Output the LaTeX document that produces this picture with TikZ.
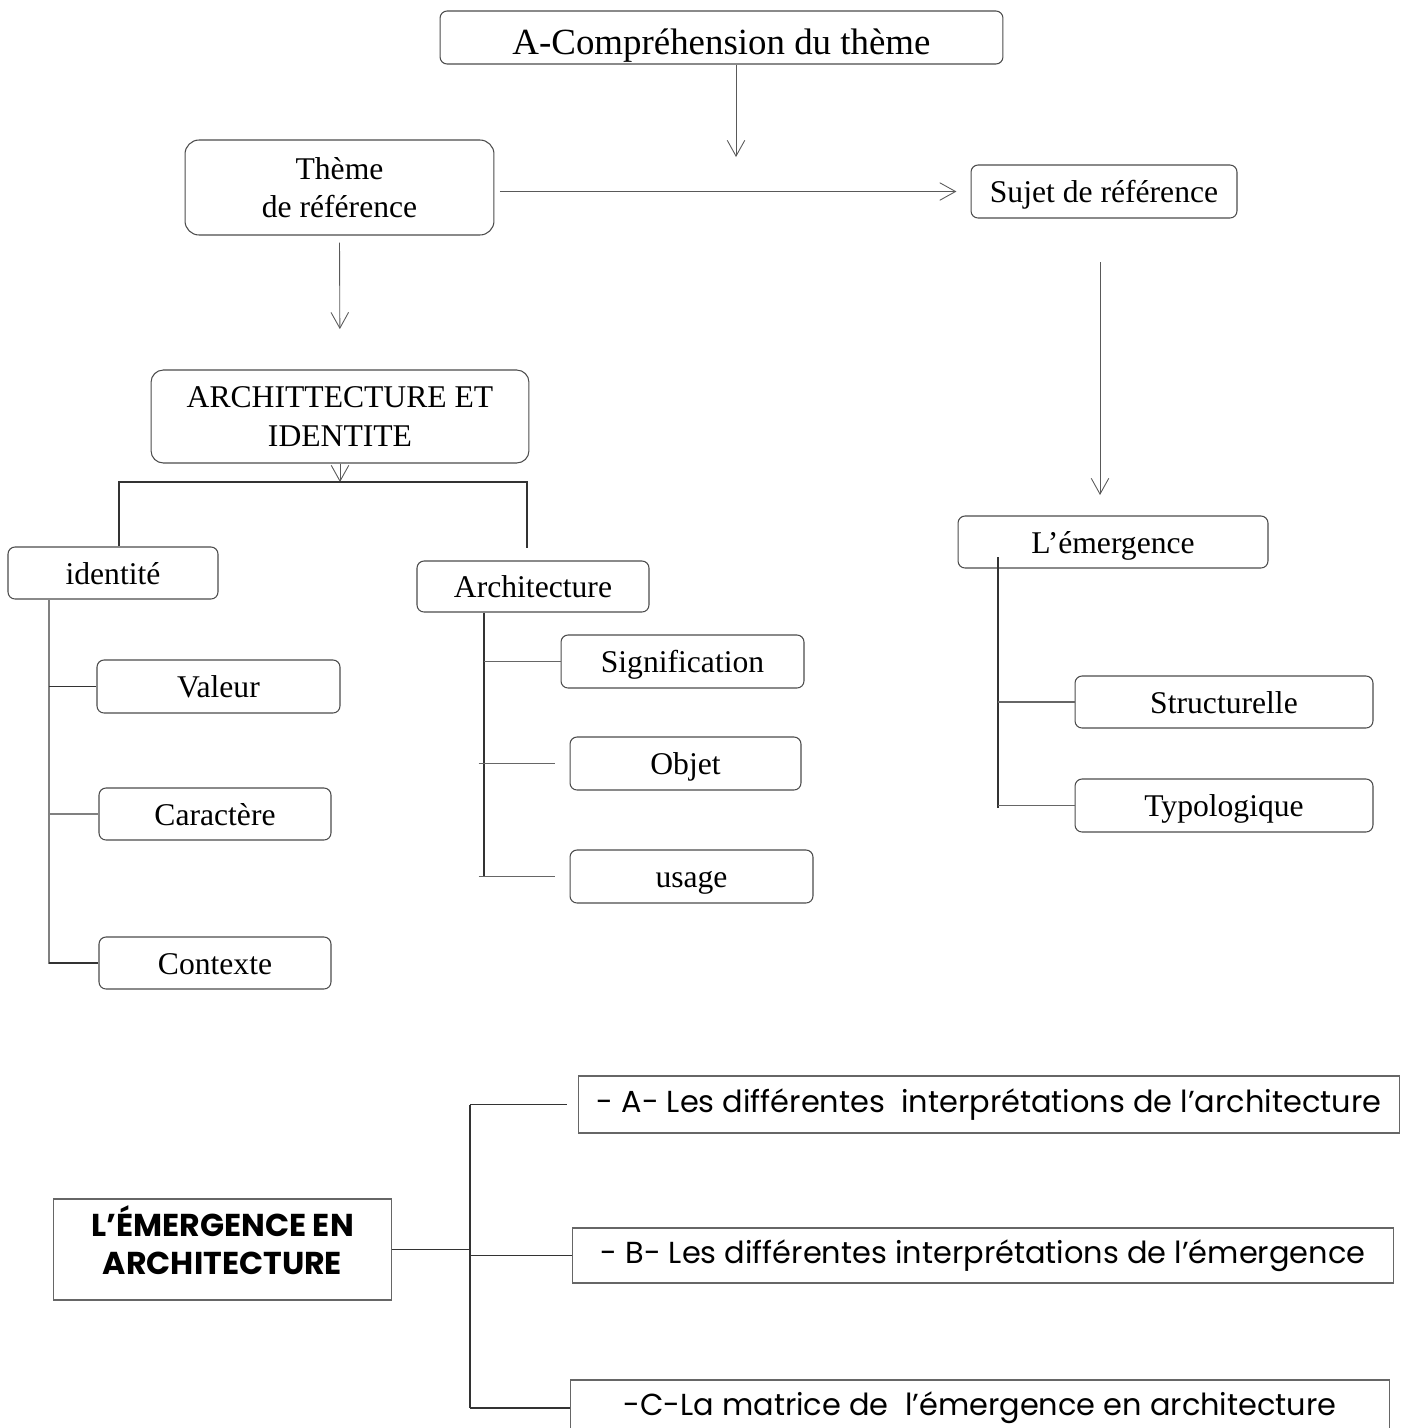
\documentclass[tikz,border=0pt]{standalone}
\usepackage{fontspec}
\setmainfont{Liberation Serif}
\newfontfamily\gothique{Poppins}
\usetikzlibrary{arrows.meta}

\tikzset{
  boite/.style={draw=black!70, line width=0.6pt, rounded corners=4pt, inner sep=0pt,
    align=center, font=\fontsize{18}{22}\selectfont},
  ligne/.style={boite, text height=13pt, text depth=0pt},
  cadre/.style={draw=black!60, line width=0.6pt, inner sep=0pt, align=center,
    font=\gothique\fontsize{17.3}{21}\selectfont},
  fleche/.style={-{Straight Barb[length=9pt,width=10pt]}, draw=black!65, line width=0.5pt},
  trait/.style={draw=black!80, line width=0.6pt}
}

\begin{document}
\begin{tikzpicture}[x=0.02cm,y=-0.02cm]
	\clip (0,0) rectangle (1405,1428);
	% partie haute
	\node[ligne, minimum width=11.26cm, minimum height=1.06cm, text height=19.8pt, font=\fontsize{21}{25}\selectfont] (titre) at (721.5,37.5) {A-Compréhension du thème};
	\node[boite, rounded corners=8pt, minimum width=6.18cm, minimum height=1.9cm] (theme) at (339.5,187.5) {Thème\\ de référence};
	\node[ligne, minimum width=5.32cm, minimum height=1.06cm] (sujet) at (1104,191.5) {Sujet de référence};
	\node[boite, rounded corners=7pt, minimum width=7.56cm, minimum height=1.86cm] (archi) at (340,416.5) {ARCHITTECTURE ET\\IDENTITE};
	\node[ligne, minimum width=4.2cm, minimum height=1.04cm] (identite) at (113,573) {identité};
	\node[ligne, minimum width=4.64cm, minimum height=1.02cm] (architecture) at (533,586.5) {Architecture};
	\node[ligne, minimum width=4.86cm, minimum height=1.06cm] (valeur) at (218.5,686.5) {Valeur};
	\node[ligne, minimum width=4.64cm, minimum height=1.04cm] (caractere) at (215,814) {Caractère};
	\node[ligne, minimum width=4.64cm, minimum height=1.04cm] (contexte) at (215,963) {Contexte};
	\node[ligne, minimum width=4.86cm, minimum height=1.06cm] (signif) at (682.5,661.5) {Signification};
	\node[ligne, minimum width=4.62cm, minimum height=1.06cm] (objet) at (685.5,763.5) {Objet};
	\node[ligne, minimum width=4.86cm, minimum height=1.06cm] (usage) at (691.5,876.5) {usage};
	\node[ligne, minimum width=6.2cm, minimum height=1.04cm] (emergence) at (1113,542) {L’émergence};
	\node[ligne, minimum width=5.96cm, minimum height=1.04cm] (struct) at (1224,702) {Structurelle};
	\node[ligne, minimum width=5.96cm, minimum height=1.06cm] (typo) at (1224,805.5) {Typologique};

	\coordinate (p1) at (736,157);
	\coordinate (p2) at (1100,495);
	\coordinate (nA) at (340,482);
	\coordinate (gA) at (119,482);
	\coordinate (dA) at (527,548);
	\coordinate (sA) at (49,964);
	\coordinate (sB) at (484,877);
	\coordinate (sC0) at (998,557);
	\coordinate (sC) at (998,808);

	\draw[fleche] (titre.south -| p1) -- (p1);
	\draw[fleche, shorten <=3pt, shorten >=8pt] (theme.east |- sujet.west) -- (sujet.west);
	\draw[fleche, shorten <=4pt, shorten >=23pt] (theme.south) -- (archi.north);
	\draw[fleche, shorten <=25pt] (sujet.south -| p2) -- (p2);
	\draw[fleche] (archi.south) -- (nA);
	\draw[trait] (identite.north -| gA) |- (nA) -| (dA);

	\draw[trait, draw=black!50] (identite.south -| sA) -- (sA);
	\draw[trait] (valeur.west -| sA) -- (valeur.west);
	\draw[trait, draw=black!50] (caractere.west -| sA) -- (caractere.west);
	\draw[trait] (contexte.west -| sA) -- (contexte.west);

	\draw[trait] (architecture.south -| sB) -- (sB);
	\draw[trait, draw=black!60] (signif.west -| sB) -- (signif.west);
	\draw[trait, draw=black!60, shorten <=-3pt, shorten >=8pt] (objet.west -| sB) -- (objet.west);
	\draw[trait, draw=black!60, shorten <=-3pt, shorten >=8pt] (usage.west -| sB) -- (usage.west);

	\draw[trait] (sC0) -- (sC);
	\draw[trait, draw=black!60] (struct.west -| sC) -- (struct.west);
	\draw[trait, draw=black!60] (typo.west -| sC) -- (typo.west);

	% partie basse
	\node[cadre, minimum width=6.78cm, minimum height=2.02cm, text depth=11pt, font=\gothique\bfseries\fontsize{18}{21.5}\selectfont] (emarchi) at (222.5,1249.5) {L’ÉMERGENCE EN\\ARCHITECTURE};
	\node[cadre, minimum width=16.44cm, minimum height=1.14cm] (partA) at (989,1104.5) {- A- Les différentes\ \ interprétations de l’architecture};
	\node[cadre, minimum width=16.44cm, minimum height=1.1cm] (partB) at (983,1255.5) {- B- Les différentes interprétations de l’émergence};
	\node[cadre, minimum width=16.4cm, minimum height=1.12cm] (partC) at (980,1408) {-C-La matrice de\ \ l’émergence en architecture};

	\coordinate (sD) at (470,1255);
	\draw[trait] (partA.west -| sD) -- (partC.west -| sD);
	\draw[trait] (emarchi.east) -- (emarchi.east -| sD);
	\draw[trait, shorten >=6pt] (partA.west -| sD) -- (partA.west);
	\draw[trait] (partB.west -| sD) -- (partB.west);
	\draw[trait] (partC.west -| sD) -- (partC.west);
\end{tikzpicture}
\end{document}
